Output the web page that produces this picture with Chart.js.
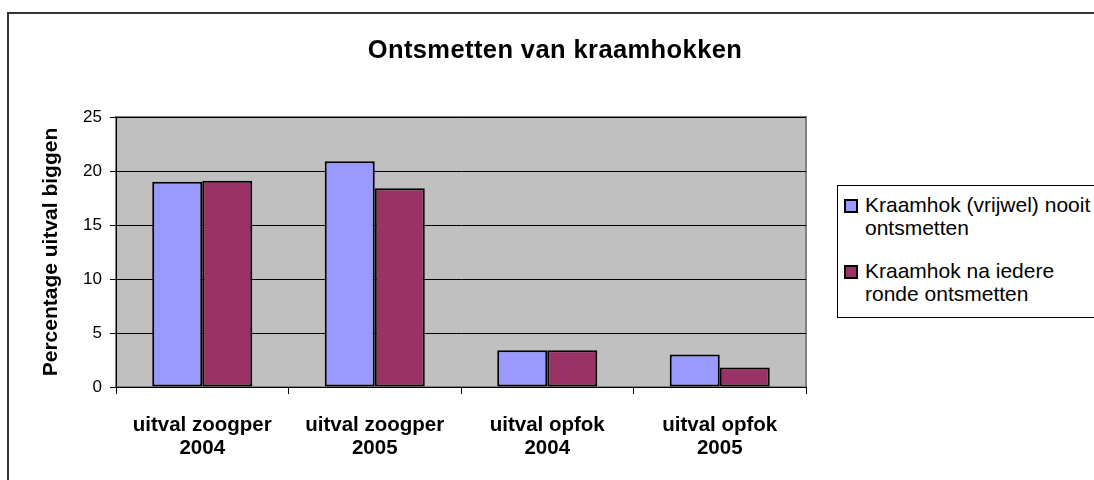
<!DOCTYPE html>
<html>
<head>
<meta charset="utf-8">
<script src="https://cdn.jsdelivr.net/npm/chart.js@4/dist/chart.umd.min.js"></script>
<style>
  body { margin: 0; background: #fff; font-family: "Liberation Sans", Arial, sans-serif; }
  #wrap { position: relative; width: 1094px; height: 480px; overflow: hidden; }
  #frame { position: absolute; left: 7px; top: 12px; width: 1100px; height: 480px; border: 2px solid #333; box-sizing: border-box; }
  #title { position: absolute; left: 255px; width: 600px; top: 34px; text-align: center; font-weight: bold; font-size: 25.5px; letter-spacing: 0.4px; line-height: 30px; color: #000; }
  #legend { position: absolute; left: 837px; top: 185px; width: 270px; height: 133px; border: 1px solid #000; box-sizing: border-box; background: #fff; }
  .item { position: absolute; left: 27px; font-size: 21px; line-height: 23px; color: #000; }
  .sw { position: absolute; left: -21px; top: 6px; width: 10px; height: 10px; border: 2px solid #000; }
  canvas { position: absolute; left: 0; top: 0; }
</style>
</head>
<body>
<div id="wrap">
  <div id="frame"></div>
  <canvas id="c" width="1094" height="480"></canvas>
  <div id="title">Ontsmetten van kraamhokken</div>
  <div id="legend"></div>
</div>
<script>
// Data
var categories = [['uitval zoogper', '2004'], ['uitval zoogper', '2005'], ['uitval opfok', '2004'], ['uitval opfok', '2005']];
var seriesNames = [['Kraamhok (vrijwel) nooit', 'ontsmetten'], ['Kraamhok na iedere', 'ronde ontsmetten']];
var nooitValues = [19.0, 20.9, 3.4, 3.0];
var iedereValues = [19.1, 18.4, 3.4, 1.8];
var seriesColors = ['#9999FF', '#993366'];

// gray plot area with border
var plotBg = {
    id: 'plotBg',
    beforeDraw: function (chart) {
        var a = chart.chartArea, ctx = chart.ctx;
        ctx.save();
        ctx.fillStyle = '#C0C0C0';
        ctx.fillRect(a.left, a.top, a.right - a.left, a.bottom - a.top);
        ctx.strokeStyle = '#808080';
        ctx.lineWidth = 2;
        ctx.strokeRect(a.left, a.top, a.right - a.left, a.bottom - a.top);
        ctx.restore();
    }
};

var ctx = document.getElementById('c').getContext('2d');
var chart = new Chart(ctx, {
    type: 'bar',
    data: {
        labels: categories,
        datasets: [{
            label: seriesNames[0].join(' '),
            data: nooitValues,
            backgroundColor: seriesColors[0],
            borderColor: '#000',
            borderWidth: 2,
            borderSkipped: false
        }, {
            label: seriesNames[1].join(' '),
            data: iedereValues,
            backgroundColor: seriesColors[1],
            borderColor: '#000',
            borderWidth: 2,
            borderSkipped: false
        }]
    },
    options: {
        responsive: false,
        animation: false,
        layout: { padding: { left: 8, top: 117, right: 288, bottom: 0 } },
        categoryPercentage: 0.58,
        barPercentage: 1,
        plugins: {
            legend: { display: false },
            title: { display: false },
            tooltip: { enabled: false }
        },
        scales: {
            x: {
                grid: { offset: true, drawOnChartArea: false, color: '#000', tickLength: 7, tickWidth: 1 },
                border: { color: '#000', width: 1 },
                ticks: { color: '#000', padding: 20, font: { family: 'Liberation Sans', size: 20.5, weight: 'bold', lineHeight: 1.12 } },
                afterFit: function (s) { s.height = 93; }
            },
            y: {
                min: 0, max: 25,
                ticks: { stepSize: 5, color: '#000', padding: 8, font: { family: 'Liberation Sans', size: 17 } },
                grid: { color: '#000', lineWidth: 1, tickLength: 6 },
                border: { color: '#000', width: 1 },
                title: { display: true, text: 'Percentage uitval biggen', color: '#000', padding: { top: 31, bottom: 0 }, font: { family: 'Liberation Sans', size: 21, weight: 'bold' } },
                afterFit: function (s) { s.width = 108; }
            }
        }
    },
    plugins: [plotBg]
});

// legend built from the series
var leg = document.getElementById('legend');
var tops = [7, 73];
seriesNames.forEach(function (name, i) {
    var d = document.createElement('div');
    d.className = 'item';
    d.style.top = tops[i] + 'px';
    d.innerHTML = '<span class="sw" style="background:' + seriesColors[i] + '"></span>' + name.join('<br>');
    leg.appendChild(d);
});
</script>
</body>
</html>
